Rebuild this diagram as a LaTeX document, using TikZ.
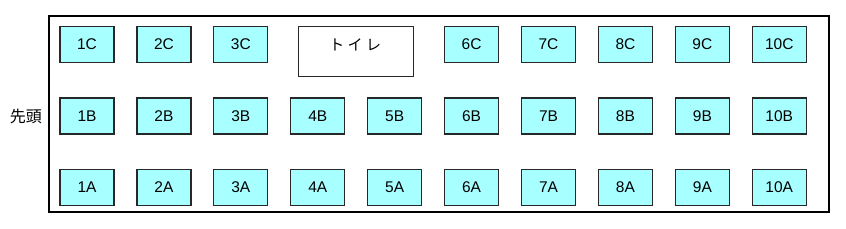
\documentclass[tikz,border=0pt]{standalone}
\usepackage{fontspec}
\setmainfont{Liberation Sans}
\newfontfamily\jpfont{Noto Sans CJK JP}
\definecolor{seatcyan}{RGB}{168,255,255}
\definecolor{seatline}{RGB}{40,40,40}
\begin{document}
\begin{tikzpicture}[x=1pt,y=-1pt,
  seat/.style={draw=seatline,fill=seatcyan,line width=1.2pt,minimum width=54pt,minimum height=36pt,inner sep=0pt,font=\fontsize{15.5}{17}\selectfont},
  wc/.style={draw=seatline,line width=1.2pt,fill=white,minimum width=115pt,minimum height=50pt,inner sep=0pt},
  car/.style={draw=black,line width=2pt}]
\useasboundingbox (0,0) rectangle (846,229);
\node[car,minimum width=780pt,minimum height=196pt,inner sep=0pt] (car) at (439.3,113.8) {};
\foreach \i in {1,...,10}{
  \pgfmathsetmacro{\xx}{87+(\i-1)*76.92}
  \node[seat] (s\i A) at (\xx,187.3) {\i A};
  \ifnum\i=4\else\ifnum\i=5\else
  \node[seat] (s\i C) at (\xx,44.5) {\i C};
  \fi\fi
  \node[seat] (s\i B) at (\xx,116) {\i B};
}
\node[wc] (wc) at (355.7,51.3) {};
\node[font=\jpfont\fontsize{15}{17}\selectfont] (wclabel) at (355.2,45) {ト イ レ};
\node[font=\jpfont\fontsize{16}{18}\selectfont,inner sep=0pt] (head) at (25.8,116.5) {先頭};
\end{tikzpicture}
\end{document}
